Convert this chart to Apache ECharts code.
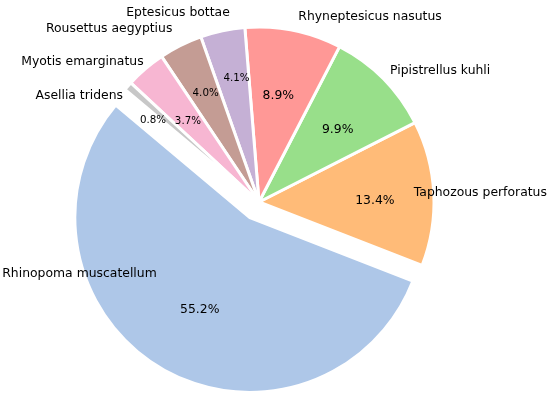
<!DOCTYPE html>
<html><head><meta charset="utf-8">
<script src="https://cdn.jsdelivr.net/npm/echarts@6/dist/echarts.min.js"></script>
<style>html,body{margin:0;padding:0;background:#fff}#c{width:550px;height:396px}</style>
</head><body><div id="c"></div><script>
// ---- data ----
const species = ['Rhinopoma muscatellum','Taphozous perforatus','Pipistrellus kuhli','Rhyneptesicus nasutus','Eptesicus bottae','Rousettus aegyptius','Myotis emarginatus','Asellia tridens'];
const shares = [55.2, 13.4, 9.9, 8.9, 4.1, 4.0, 3.7, 0.8];
const exploded = [true, false, false, false, false, false, false, false];

// ---- styles / layout (not data) ----
const colors = ['#aec7e8','#ffbb78','#98df8a','#ff9896','#c5b0d5','#c49c94','#f7b6d2','#c7c7c7'];
const R = 175;
const center = [259, 202];
const nameRadial = [-110, 7, 11, 14, 18, 18.5, 9, -15];
const nameShift = [60, -27, -1, 2, -11, 0, -4, 16];
const pctNudge = [[5,-1],[8,4],[2,4],[-2,0],[0,-18],[-5,-12],[-1,1],[-25,-10]];
const font = 'DejaVu Sans';

const chart = echarts.init(document.getElementById('c'), null, {renderer: 'canvas'});

const mainData = species.map((n, i) => ({
  name: n, value: shares[i], selected: exploded[i],
  itemStyle: {color: colors[i]},
  labelLine: {show: false, length: nameRadial[i], length2: nameShift[i]}
}));
const pctData = species.map((n, i) => ({
  name: n, value: shares[i], selected: exploded[i],
  label: {fontSize: shares[i] > 5 ? 12.4 : 10.3}
}));

chart.setOption({
  animation: false,
  backgroundColor: '#fff',
  series: [
    {
      type: 'pie', center: center, radius: [0, R],
      startAngle: 140, clockwise: false,
      selectedMode: 'multiple', selectedOffset: 18,
      avoidLabelOverlap: false, silent: true,
      itemStyle: {borderColor: '#fff', borderWidth: 3},
      label: {show: true, position: 'outside', color: '#000', fontFamily: font, fontSize: 12.4,
              distanceToLabelLine: 0, formatter: '{b}'},
      labelLine: {show: false},
      emphasis: {disabled: true},
      data: mainData
    },
    {
      type: 'pie', center: center, radius: [0, R * 1.2],
      startAngle: 140, clockwise: false,
      selectedMode: 'multiple', selectedOffset: 18,
      avoidLabelOverlap: false, silent: true,
      itemStyle: {color: 'rgba(0,0,0,0)', borderWidth: 0},
      label: {show: true, position: 'inside', color: '#000', fontFamily: font,
              formatter: p => p.value.toFixed(1) + '%'},
      labelLine: {show: false},
      labelLayout: p => ({dx: pctNudge[p.dataIndex][0], dy: pctNudge[p.dataIndex][1]}),
      emphasis: {disabled: true},
      data: pctData
    }
  ]
});
</script></body></html>
